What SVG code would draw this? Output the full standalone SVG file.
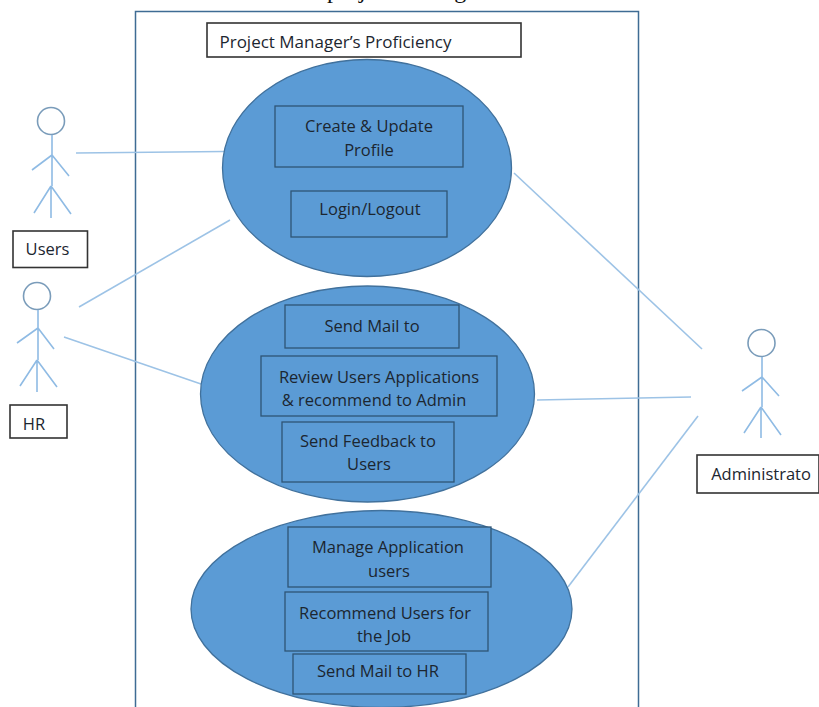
<svg xmlns="http://www.w3.org/2000/svg" width="819" height="707" viewBox="0 0 819 707">
<style>
.lbl{fill:#fff;stroke:#333;stroke-width:1.6}
.uc{fill:#5b9bd5;stroke:#41719c;stroke-width:1.3}
.box{fill:#5b9bd5;stroke:#2f5575;stroke-width:1.3}
.conn{stroke:#9dc3e6;stroke-width:1.6;fill:none}
.head{fill:#fff;stroke:#7a9cba;stroke-width:1.6}
.limb{stroke:#8fbbe4;stroke-width:1.6;fill:none}
text{font-family:"Open Sans","Noto Sans","DejaVu Sans",sans-serif;font-size:16.500px;fill:#1c2630;text-anchor:middle}
</style>
<rect width="819" height="707" fill="#fff"/>
<text id="caption" x="327" y="-2" style="font-family:'Liberation Serif',serif;font-size:24px;fill:#111;text-anchor:start">project Manager</text>
<g id="system"><path d="M135.500 707V11.500H638.500V707" fill="none" stroke="#3f6c94" stroke-width="1.500"/></g>
<g id="connectors">
<path class="conn" d="M76 153L224 151.500"/>
<path class="conn" d="M79 307L230 220"/>
<path class="conn" d="M64 337L201 384"/>
<path class="conn" d="M514 173L702 349"/>
<path class="conn" d="M537 400L691 397"/>
<path class="conn" d="M568 587L698 416"/>
</g>
<g id="title"><rect class="lbl" x="207" y="23" width="314" height="34"/><text x="335.500" y="48" style="font-size:17px">Project Manager’s Proficiency</text></g>
<g id="actor-users">
<circle class="head" cx="51" cy="121" r="13.500"/>
<path class="limb" d="M52 135V155M52 155L32 170M52 155L69 176M52 155V186M51 186V218M51 186L34 213M51 186L71 214"/>
<rect class="lbl" x="13" y="231" width="74.500" height="36.500"/><text x="47.500" y="255">Users</text>
</g>
<g id="actor-hr">
<circle class="head" cx="37" cy="296" r="13.500"/>
<path class="limb" d="M38 310V328M38 328L17 343M38 328L54 349M38 328V360M37 360V392M37 360L20 386M37 360L57 387"/>
<rect class="lbl" x="10" y="405" width="57" height="33"/><text x="34" y="430">HR</text>
</g>
<g id="actor-admin">
<circle class="head" cx="761.500" cy="343" r="13.500"/>
<path class="limb" d="M762 357V377M762 377L742 391M762 377L779 396M762 377V407M761 407V438M761 407L744 433M761 407L781 435"/>
<rect class="lbl" x="697" y="455" width="122" height="38"/><text x="761" y="480">Administrato</text>
</g>
<g id="usecase-profile">
<ellipse class="uc" cx="367" cy="168" rx="144.500" ry="108.500"/>
<rect class="box" x="275" y="106" width="188" height="61"/><text x="369" y="132">Create &amp; Update</text><text x="369" y="156">Profile</text>
<rect class="box" x="291" y="191" width="156" height="46"/><text x="370" y="215">Login/Logout</text>
</g>
<g id="usecase-review">
<ellipse class="uc" cx="367.500" cy="394" rx="167" ry="108"/>
<rect class="box" x="285" y="305" width="174" height="43"/><text x="372" y="332">Send Mail to</text>
<rect class="box" x="261" y="356" width="236" height="60"/><text x="379" y="383">Review Users Applications</text><text x="374" y="406">&amp; recommend to Admin</text>
<rect class="box" x="282" y="422" width="172" height="60"/><text x="368" y="447">Send Feedback to</text><text x="369" y="470">Users</text>
</g>
<g id="usecase-manage">
<ellipse class="uc" cx="381.500" cy="609" rx="190.500" ry="98.500"/>
<rect class="box" x="288" y="527" width="203" height="60"/><text x="388" y="553">Manage Application</text><text x="389" y="577">users</text>
<rect class="box" x="285" y="592" width="203" height="59"/><text x="385" y="619">Recommend Users for</text><text x="384" y="642">the Job</text>
<rect class="box" x="293" y="654" width="173" height="40"/><text x="378" y="677">Send Mail to HR</text>
</g>
</svg>
